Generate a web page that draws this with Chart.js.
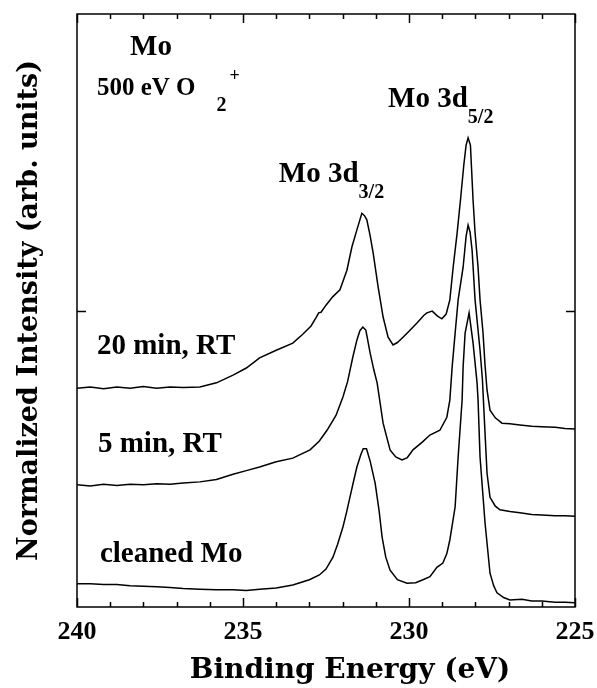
<!DOCTYPE html>
<html>
<head>
<meta charset="utf-8">
<script src="https://cdn.jsdelivr.net/npm/chart.js@4.4.1/dist/chart.umd.min.js"></script>
<style>
html,body{margin:0;padding:0;background:#fff}
</style>
</head>
<body>
<canvas id="xpsChart" width="597" height="688"></canvas>
<script>
// binding energy (eV) / normalized intensity
const energy20 = [
240.0,239.6,239.2,238.8,238.4,238.0,237.6,237.2,236.8,236.3,235.8,235.3,234.9,234.5,234.0,233.5,233.2,232.95,232.8,232.72,
232.65,232.5,232.3,232.08,231.87,231.72,231.57,231.42,231.34,231.27,231.17,231.08,230.93,230.78,230.63,230.48,230.35,230.18,230.0,229.76,
229.55,229.46,229.3,229.15,229.01,228.88,228.77,228.67,228.55,228.45,228.35,228.28,228.22,228.15,228.07,228.01,227.92,227.86,227.77,227.71,
227.65,227.56,227.4,227.2,226.96,226.66,226.3,226.0,225.6,225.3,225.0
];
const intensity20 = [
36.9,37.1,36.8,37.1,36.9,37.2,36.9,37.1,37.0,37.1,37.8,39.1,40.3,42.0,43.3,44.5,46.0,47.4,48.8,49.6,
49.7,50.9,52.3,53.5,56.8,60.7,63.6,66.4,66.0,65.3,62.6,59.7,54.0,48.9,45.5,44.2,44.6,45.5,46.5,47.9,
49.2,49.6,49.9,49.1,48.6,49.4,51.8,57.3,63.1,68.6,74.5,77.9,79.1,77.9,68.6,63.1,57.3,51.8,46.2,40.8,
36.6,33.2,31.9,31.0,30.9,30.7,30.5,30.4,30.3,30.1,30.0
];

const energy5 = [
240.0,239.6,239.2,238.8,238.4,238.0,237.6,237.2,236.8,236.3,235.8,235.3,234.9,234.5,234.0,233.5,232.98,232.7,232.47,232.2,
231.99,231.85,231.69,231.57,231.48,231.39,231.3,231.17,231.06,230.96,230.78,230.57,230.4,230.21,230.05,229.88,229.6,229.37,229.07,228.86,
228.77,228.7,228.61,228.52,228.37,228.28,228.22,228.16,228.1,228.01,227.86,227.79,227.72,227.65,227.56,227.4,227.26,226.96,226.66,226.3,
226.0,225.6,225.3,225.0
];
const intensity5 = [
20.6,20.4,20.7,20.5,20.7,20.6,20.8,20.7,20.9,21.1,21.5,22.4,23.0,23.6,24.5,25.1,26.5,28.0,29.8,32.3,
35.4,38.0,42.2,45.0,46.6,47.2,46.7,42.8,40.0,37.8,31.0,26.5,25.3,24.8,25.2,26.5,27.8,29.0,29.8,32.0,
34.9,40.5,46.2,51.8,57.3,62.5,64.4,63.2,60.2,51.8,43.3,38.5,30.5,22.6,18.5,17.0,16.4,16.1,15.9,15.6,
15.5,15.4,15.4,15.3
];

const energyClean = [
240.0,239.6,239.2,238.8,238.4,238.0,237.6,237.2,236.8,236.3,235.8,235.3,234.9,234.5,234.0,233.5,233.0,232.7,232.5,232.29,
232.15,231.99,231.88,231.78,231.67,231.57,231.45,231.38,231.28,231.17,231.02,230.9,230.81,230.7,230.57,230.35,230.06,229.8,229.58,229.37,
229.16,228.98,228.86,228.77,228.61,228.52,228.4,228.37,228.31,228.19,228.07,227.95,227.92,227.86,227.71,227.56,227.45,227.35,227.15,226.96,
226.6,226.3,226.0,225.6,225.3,225.0
];
const intensityClean = [
3.9,3.9,3.8,3.8,3.6,3.5,3.4,3.3,3.1,3.0,2.9,2.9,2.8,3.0,3.2,3.7,4.6,5.4,6.4,8.4,
10.6,13.5,16.0,18.5,21.2,23.6,25.7,26.7,26.7,24.6,20.9,16.2,11.8,8.4,6.2,4.6,4.0,4.1,4.6,5.1,
6.7,7.4,9.0,11.3,16.9,25.3,34.9,40.5,46.2,49.6,44.5,37.8,34.9,25.3,14.2,5.7,3.6,2.4,1.6,1.2,
1.3,1.0,1.0,0.8,0.8,0.7
];

const xTickLabels = [240, 235, 230, 225];

// text in the plot, anchored in data units
const notes = [
  {text: 'Mo', e: 238.40, v: 93.1, size: 29},
  {text: '500 eV O', e: 239.40, v: 86.3, size: 25, sub: '2', subGap: 21, sup: '+'},
  {text: 'Mo 3d', e: 230.63, v: 84.3, size: 29, sub: '5/2', subGap: 0},
  {text: 'Mo 3d', e: 233.92, v: 71.7, size: 29, sub: '3/2', subGap: 0},
  {text: '20 min, RT', e: 239.40, v: 42.7, size: 29},
  {text: '5 min, RT', e: 239.37, v: 26.1, size: 29},
  {text: 'cleaned Mo', e: 239.31, v: 7.6, size: 29}
];

function toPoints(xs, ys) {
  return xs.map((x, i) => ({x: x, y: ys[i]}));
}

const serif = '"Liberation Serif", "Times New Roman", serif';

const framePlugin = {
  id: 'frame',
  afterDraw(c) {
    const g = c.ctx;
    const a = c.chartArea;
    const xs = c.scales.x;
    const ys = c.scales.y;
    g.save();
    g.strokeStyle = '#000';
    g.lineWidth = 1.5;
    g.strokeRect(a.left, a.top, a.right - a.left, a.bottom - a.top);
    g.beginPath();
    for (let e = 225; e <= 240; e++) {
      const px = Math.round(xs.getPixelForValue(e)) + 0.5;
      const len = e % 5 === 0 ? 9 : 5;
      g.moveTo(px, a.bottom); g.lineTo(px, a.bottom - len);
      g.moveTo(px, a.top); g.lineTo(px, a.top + len);
    }
    ys.ticks.forEach(t => {
      if (t.value <= ys.min || t.value >= ys.max) return;
      const py = Math.round(ys.getPixelForValue(t.value)) + 0.5;
      g.moveTo(a.left, py); g.lineTo(a.left + 9, py);
      g.moveTo(a.right, py); g.lineTo(a.right - 9, py);
    });
    g.stroke();

    g.fillStyle = '#000';
    g.textBaseline = 'alphabetic';
    g.textAlign = 'left';
    notes.forEach(n => {
      const px = xs.getPixelForValue(n.e);
      const py = ys.getPixelForValue(n.v);
      g.font = 'bold ' + n.size + 'px ' + serif;
      g.fillText(n.text, px, py);
      let end = px + g.measureText(n.text).width;
      if (n.sub) {
        g.font = 'bold 20px ' + serif;
        g.fillText(n.sub, end + n.subGap, py + 16);
        end = end + n.subGap + g.measureText(n.sub).width;
      }
      if (n.sup) {
        g.font = 'bold 18px ' + serif;
        g.fillText(n.sup, end + 3, py - 14);
      }
    });

    g.font = 'bold 28px "DejaVu Serif", serif';
    g.textAlign = 'center';
    g.fillText('Binding Energy (eV)', (a.left + a.right) / 2 + 24, 678);
    g.restore();
  }
};

const ctx = document.getElementById('xpsChart').getContext('2d');

const chart = new Chart(ctx, {
  type: 'line',
  data: {
    datasets: [
      {label: '20 min, RT', data: toPoints(energy20, intensity20), borderColor: '#000', backgroundColor: '#000'},
      {label: '5 min, RT', data: toPoints(energy5, intensity5), borderColor: '#000', backgroundColor: '#000'},
      {label: 'cleaned Mo', data: toPoints(energyClean, intensityClean), borderColor: '#000', backgroundColor: '#000'}
    ]
  },
  options: {
    responsive: false,
    animation: false,
    layout: {padding: {top: 14, right: 0, left: 0, bottom: 0}},
    elements: {
      line: {borderWidth: 1.5, tension: 0, fill: false},
      point: {radius: 0}
    },
    plugins: {
      legend: {display: false},
      tooltip: {enabled: false}
    },
    scales: {
      x: {
        type: 'linear',
        reverse: true,
        min: 225,
        max: 240,
        grid: {display: false, drawTicks: false},
        border: {display: false},
        ticks: {
          stepSize: 1,
          autoSkip: false,
          maxRotation: 0,
          padding: 10,
          color: '#000',
          font: {family: serif, size: 26, weight: 'bold'},
          callback: v => xTickLabels.includes(v) ? String(v) : ''
        },
        afterFit: s => { s.height = 81; s.paddingLeft = 0; s.paddingRight = 22; }
      },
      y: {
        min: 0,
        max: 100,
        grid: {display: false, drawTicks: false},
        border: {display: false},
        ticks: {display: false, stepSize: 50},
        title: {
          display: true,
          text: 'Normalized Intensity (arb. units)',
          color: '#000',
          font: {family: '"DejaVu Serif", serif', size: 27, weight: 'bold'},
          padding: {top: 14, bottom: 0}
        },
        afterFit: s => { s.width = 77; }
      }
    }
  },
  plugins: [framePlugin]
});
</script>
</body>
</html>
